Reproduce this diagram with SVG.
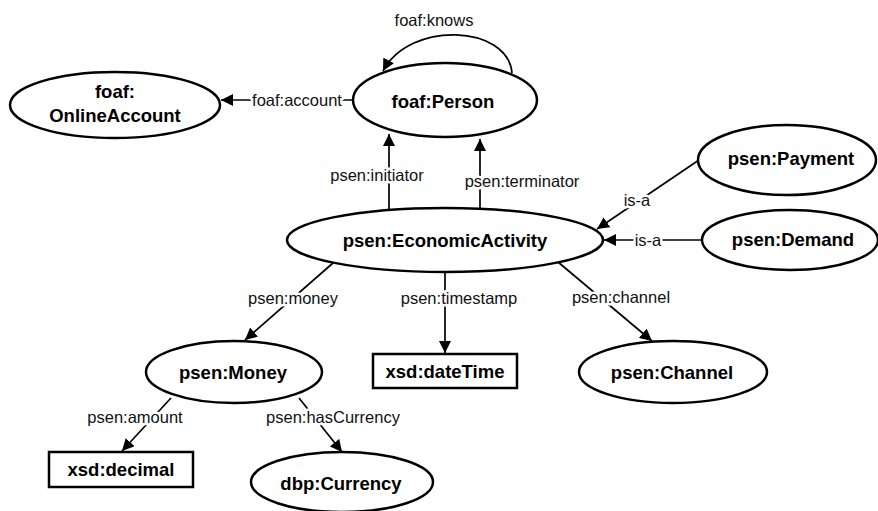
<svg xmlns="http://www.w3.org/2000/svg" width="878" height="511" viewBox="0 0 878 511">
<style>
.n{fill:#fff;stroke:#000;stroke-width:2.5}
.nt{font-family:"Liberation Sans",Arial,sans-serif;font-weight:bold;font-size:18.5px;text-anchor:middle;dominant-baseline:central;fill:#000}
.e{fill:none;stroke:#000;stroke-width:1.7}
.et{font-family:"Liberation Sans",Arial,sans-serif;font-size:16.5px;text-anchor:middle;dominant-baseline:central;fill:#111;stroke:#fff;stroke-width:5;paint-order:stroke;stroke-linejoin:round}
</style>
<defs>
<marker id="ah" markerUnits="userSpaceOnUse" markerWidth="12" markerHeight="12" viewBox="0 0 12 12" refX="12" refY="6" orient="auto">
<path d="M0,0 L12,6 L0,12 z" fill="#000"/>
</marker>
</defs>
<rect width="878" height="511" fill="#fff"/>
<g id="connectors">
<path class="e" d="M512,73 C508,25 410,20 383,71" marker-end="url(#ah)"/>
<text class="et" x="434" y="20">foaf:knows</text>
<path class="e" d="M352,100 L221,100" marker-end="url(#ah)"/>
<text class="et" x="297" y="100">foaf:account</text>
<path class="e" d="M389,210 L389,134" marker-end="url(#ah)"/>
<text class="et" x="377" y="175">psen:initiator</text>
<path class="e" d="M480,209 L480,139" marker-end="url(#ah)"/>
<text class="et" x="522" y="181">psen:terminator</text>
<path class="e" d="M699,160 L597,229" marker-end="url(#ah)"/>
<text class="et" x="637" y="200">is-a</text>
<path class="e" d="M702,240 L604,240" marker-end="url(#ah)"/>
<text class="et" x="648" y="240">is-a</text>
<path class="e" d="M333,263 L245,340" marker-end="url(#ah)"/>
<text class="et" x="293" y="298">psen:money</text>
<path class="e" d="M445,272 L445,353" marker-end="url(#ah)"/>
<text class="et" x="459" y="298">psen:timestamp</text>
<path class="e" d="M558,262 L652,341" marker-end="url(#ah)"/>
<text class="et" x="621" y="297">psen:channel</text>
<path class="e" d="M171,398 L122,451" marker-end="url(#ah)"/>
<text class="et" x="135" y="417">psen:amount</text>
<path class="e" d="M299,398 L342,452" marker-end="url(#ah)"/>
<text class="et" x="333" y="417">psen:hasCurrency</text>
</g>
<g id="node-onlineaccount">
<ellipse class="n" cx="115" cy="105" rx="105" ry="33"/>
<text class="nt" x="115" y="91">foaf:</text>
<text class="nt" x="115" y="115">OnlineAccount</text>
</g>
<g id="node-person">
<ellipse class="n" cx="445" cy="100" rx="92" ry="37"/>
<text class="nt" x="443" y="101">foaf:Person</text>
</g>
<g id="node-economicactivity">
<ellipse class="n" cx="445" cy="240" rx="158" ry="32"/>
<text class="nt" x="445" y="240">psen:EconomicActivity</text>
</g>
<g id="node-payment">
<ellipse class="n" cx="787" cy="160" rx="89" ry="35"/>
<text class="nt" x="791" y="158">psen:Payment</text>
</g>
<g id="node-demand">
<ellipse class="n" cx="790" cy="240" rx="88" ry="30"/>
<text class="nt" x="793" y="239">psen:Demand</text>
</g>
<g id="node-money">
<ellipse class="n" cx="234" cy="372" rx="88" ry="31"/>
<text class="nt" x="233" y="372">psen:Money</text>
</g>
<g id="node-datetime">
<rect class="n" x="373" y="354" width="144" height="34"/>
<text class="nt" x="445" y="371">xsd:dateTime</text>
</g>
<g id="node-channel">
<ellipse class="n" cx="673" cy="372" rx="94" ry="31"/>
<text class="nt" x="672" y="372">psen:Channel</text>
</g>
<g id="node-decimal">
<rect class="n" x="49" y="452" width="144" height="35"/>
<text class="nt" x="121" y="469">xsd:decimal</text>
</g>
<g id="node-currency">
<ellipse class="n" cx="342" cy="482" rx="91" ry="30"/>
<text class="nt" x="341" y="483">dbp:Currency</text>
</g>
</svg>
